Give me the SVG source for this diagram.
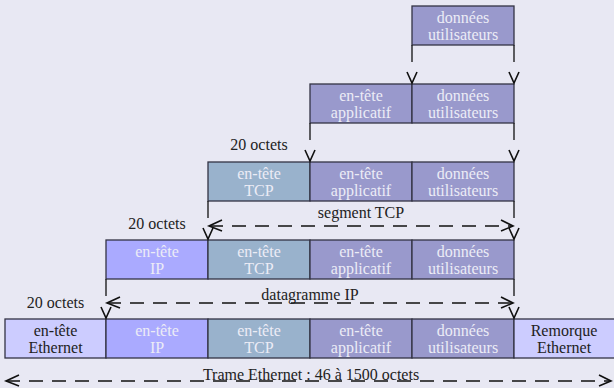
<svg xmlns="http://www.w3.org/2000/svg" width="614" height="388" viewBox="0 0 614 388">
<style>
.bx{stroke:#333344;stroke-width:1.3}
.d{fill:#9999cc}
.a{fill:#9999cc}
.t{fill:#99b2cc}
.i{fill:#aaaaff}
.e{fill:#ccccff}
text{font-family:"Liberation Serif","Times New Roman",serif;font-size:16px;text-anchor:middle}
.lt{fill:#ececf6}
.dk{fill:#222222}
.ln{stroke:#111111;stroke-width:1.3;fill:none}
.ds{stroke:#111111;stroke-width:1.3;fill:none;stroke-dasharray:14 9}
.hd{stroke:#111111;stroke-width:1.6;fill:none}
</style>
<rect width="614" height="388" fill="#e8e8f3"/>

<g id="row1">
<rect class="bx d" x="412" y="6" width="102" height="39"/>
<text class="lt" x="463" y="23">données</text><text class="lt" x="463" y="40">utilisateurs</text>
</g>

<g id="row2">
<rect class="bx a" x="310" y="84" width="102" height="39"/>
<text class="lt" x="361" y="101">en-tête</text><text class="lt" x="361" y="118">applicatif</text>
<rect class="bx d" x="412" y="84" width="102" height="39"/>
<text class="lt" x="463" y="101">données</text><text class="lt" x="463" y="118">utilisateurs</text>
</g>

<g id="row3">
<rect class="bx t" x="208" y="162" width="102" height="39"/>
<text class="lt" x="259" y="179">en-tête</text><text class="lt" x="259" y="196">TCP</text>
<rect class="bx a" x="310" y="162" width="102" height="39"/>
<text class="lt" x="361" y="179">en-tête</text><text class="lt" x="361" y="196">applicatif</text>
<rect class="bx d" x="412" y="162" width="102" height="39"/>
<text class="lt" x="463" y="179">données</text><text class="lt" x="463" y="196">utilisateurs</text>
</g>

<g id="row4">
<rect class="bx i" x="106" y="240" width="102" height="39"/>
<text class="lt" x="157" y="257">en-tête</text><text class="lt" x="157" y="274">IP</text>
<rect class="bx t" x="208" y="240" width="102" height="39"/>
<text class="lt" x="259" y="257">en-tête</text><text class="lt" x="259" y="274">TCP</text>
<rect class="bx a" x="310" y="240" width="102" height="39"/>
<text class="lt" x="361" y="257">en-tête</text><text class="lt" x="361" y="274">applicatif</text>
<rect class="bx d" x="412" y="240" width="102" height="39"/>
<text class="lt" x="463" y="257">données</text><text class="lt" x="463" y="274">utilisateurs</text>
</g>

<g id="row5">
<rect class="bx e" x="5" y="319" width="101" height="39"/>
<text class="dk" x="55.5" y="336">en-tête</text><text class="dk" x="55.5" y="353">Ethernet</text>
<rect class="bx i" x="106" y="319" width="102" height="39"/>
<text class="lt" x="157" y="336">en-tête</text><text class="lt" x="157" y="353">IP</text>
<rect class="bx t" x="208" y="319" width="102" height="39"/>
<text class="lt" x="259" y="336">en-tête</text><text class="lt" x="259" y="353">TCP</text>
<rect class="bx a" x="310" y="319" width="102" height="39"/>
<text class="lt" x="361" y="336">en-tête</text><text class="lt" x="361" y="353">applicatif</text>
<rect class="bx d" x="412" y="319" width="102" height="39"/>
<text class="lt" x="463" y="336">données</text><text class="lt" x="463" y="353">utilisateurs</text>
<rect class="bx e" x="514" y="319" width="102" height="39"/>
<text class="dk" x="564" y="336">Remorque</text><text class="dk" x="564" y="353">Ethernet</text>
</g>

<g id="labels">
<text class="dk" x="259" y="150">20 octets</text>
<text class="dk" x="157" y="229">20 octets</text>
<text class="dk" x="55.5" y="308">20 octets</text>
<text class="dk" x="361" y="218">segment TCP</text>
<text class="dk" x="310" y="300">datagramme IP</text>
<text class="dk" x="311" y="380">Trame Ethernet : 46 à 1500 octets</text>
</g>

<g id="connectors">
<!-- row1 -> row2 -->
<path class="ln" d="M412 45V62M514 45V62"/>
<path class="hd" d="M407 72L412 83L417 72M509 72L514 83L519 72"/>
<!-- row2 -> row3 -->
<path class="ln" d="M310 123V140M514 123V140"/>
<path class="hd" d="M305 150L310 161L315 150M509 150L514 161L519 150"/>
<!-- row3 -> row4 -->
<path class="ln" d="M208 201V218M514 201V218"/>
<path class="hd" d="M203 228L208 239L213 228M509 228L514 239L519 228"/>
<path class="ds" d="M209 226H513"/>
<path class="hd" d="M222 220L209 226L222 231M501 220L513 226L501 231"/>
<!-- row4 -> row5 -->
<path class="ln" d="M106 279V296M514 279V296"/>
<path class="hd" d="M101 307L106 318L111 307M509 307L514 318L519 307"/>
<path class="ds" d="M107 303H513"/>
<path class="hd" d="M120 297L107 303L120 308M501 297L513 303L501 308"/>
<!-- frame -->
<path class="ds" d="M6 381H611"/>
<path class="hd" d="M19 375L6 381L19 386M599 375L611 381L599 386"/>
</g>
</svg>
